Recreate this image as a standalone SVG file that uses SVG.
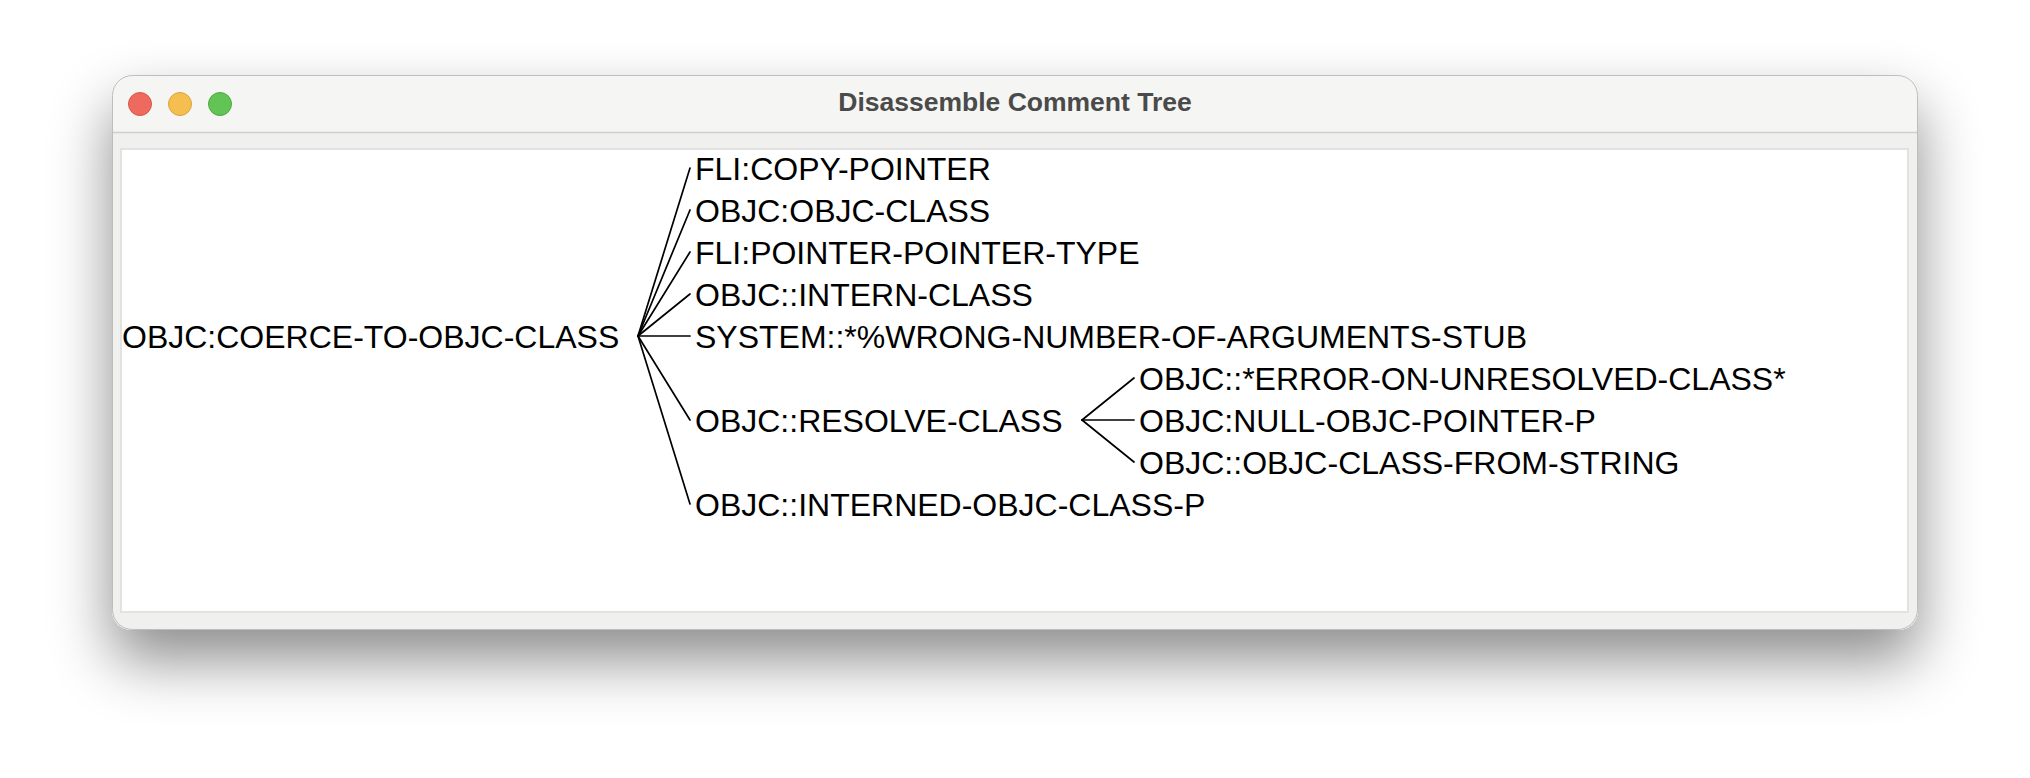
<svg xmlns="http://www.w3.org/2000/svg" width="2030" height="778" viewBox="0 0 2030 778">
  <defs>
    <filter id="shadow" x="-10%" y="-25%" width="120%" height="180%">
      <feDropShadow dx="0" dy="30" stdDeviation="30" flood-color="#000" flood-opacity="0.45"/>
    </filter>
    <clipPath id="winclip">
      <rect x="112" y="75" width="1806" height="555" rx="20" ry="20"/>
    </clipPath>
  </defs>
  <style>
    .lbl { font-family: "Liberation Sans", Arial, Helvetica, sans-serif; font-size: 32px; fill: #000; }
    .title { font-family: "Liberation Sans", Arial, Helvetica, sans-serif; font-size: 26.5px; font-weight: bold; fill: #4a4a4a; }
    .edge { stroke: #000; stroke-width: 1.7; fill: none; stroke-linecap: round; }
  </style>
  <rect x="0" y="0" width="2030" height="778" fill="#ffffff"/>
  <g id="window">
    <rect x="112" y="75" width="1806" height="555" rx="20" ry="20" fill="#f0f0ef" filter="url(#shadow)"/>
    <g clip-path="url(#winclip)">
      <rect x="112" y="75" width="1806" height="57" fill="#f5f5f3"/>
      <line x1="112" y1="132.5" x2="1918" y2="132.5" stroke="#cfcfcf" stroke-width="1.5"/>
    </g>
    <rect x="112.5" y="75.5" width="1805" height="554" rx="20" ry="20" fill="none" stroke="#bdbdbd" stroke-width="1"/>
    <rect x="121" y="149" width="1787" height="463" fill="#ffffff" stroke="#e2e2e2" stroke-width="2"/>
    <circle cx="140" cy="104" r="11.5" fill="#ee6a5e" stroke="#d4574c" stroke-width="1"/>
    <circle cx="180" cy="104" r="11.5" fill="#f5bf4f" stroke="#d9a23e" stroke-width="1"/>
    <circle cx="220" cy="104" r="11.5" fill="#61c454" stroke="#4fa83f" stroke-width="1"/>
    <text class="title" x="1015" y="111" text-anchor="middle">Disassemble Comment Tree</text>
  </g>
  <g id="connectors">
    <line class="edge" x1="638" y1="336" x2="690" y2="168"/>
    <line class="edge" x1="638" y1="336" x2="690" y2="210"/>
    <line class="edge" x1="638" y1="336" x2="690" y2="252"/>
    <line class="edge" x1="638" y1="336" x2="690" y2="294"/>
    <line class="edge" x1="638" y1="336" x2="690" y2="336"/>
    <line class="edge" x1="638" y1="336" x2="690" y2="420"/>
    <line class="edge" x1="638" y1="336" x2="690" y2="504"/>
    <line class="edge" x1="1082" y1="420" x2="1134" y2="378"/>
    <line class="edge" x1="1082" y1="420" x2="1134" y2="420"/>
    <line class="edge" x1="1082" y1="420" x2="1134" y2="462"/>
  </g>
  <g id="node-root"><text class="lbl" x="122" y="348">OBJC:COERCE-TO-OBJC-CLASS</text></g>
  <g id="node-copy-pointer"><text class="lbl" x="695" y="180">FLI:COPY-POINTER</text></g>
  <g id="node-objc-class"><text class="lbl" x="695" y="222">OBJC:OBJC-CLASS</text></g>
  <g id="node-pointer-pointer-type"><text class="lbl" x="695" y="264">FLI:POINTER-POINTER-TYPE</text></g>
  <g id="node-intern-class"><text class="lbl" x="695" y="306">OBJC::INTERN-CLASS</text></g>
  <g id="node-wrong-number"><text class="lbl" x="695" y="348">SYSTEM::*%WRONG-NUMBER-OF-ARGUMENTS-STUB</text></g>
  <g id="node-resolve-class"><text class="lbl" x="695" y="432">OBJC::RESOLVE-CLASS</text></g>
  <g id="node-interned-objc-class-p"><text class="lbl" x="695" y="516">OBJC::INTERNED-OBJC-CLASS-P</text></g>
  <g id="node-error-on-unresolved"><text class="lbl" x="1139" y="390">OBJC::*ERROR-ON-UNRESOLVED-CLASS*</text></g>
  <g id="node-null-objc-pointer-p"><text class="lbl" x="1139" y="432">OBJC:NULL-OBJC-POINTER-P</text></g>
  <g id="node-objc-class-from-string"><text class="lbl" x="1139" y="474">OBJC::OBJC-CLASS-FROM-STRING</text></g>
</svg>
